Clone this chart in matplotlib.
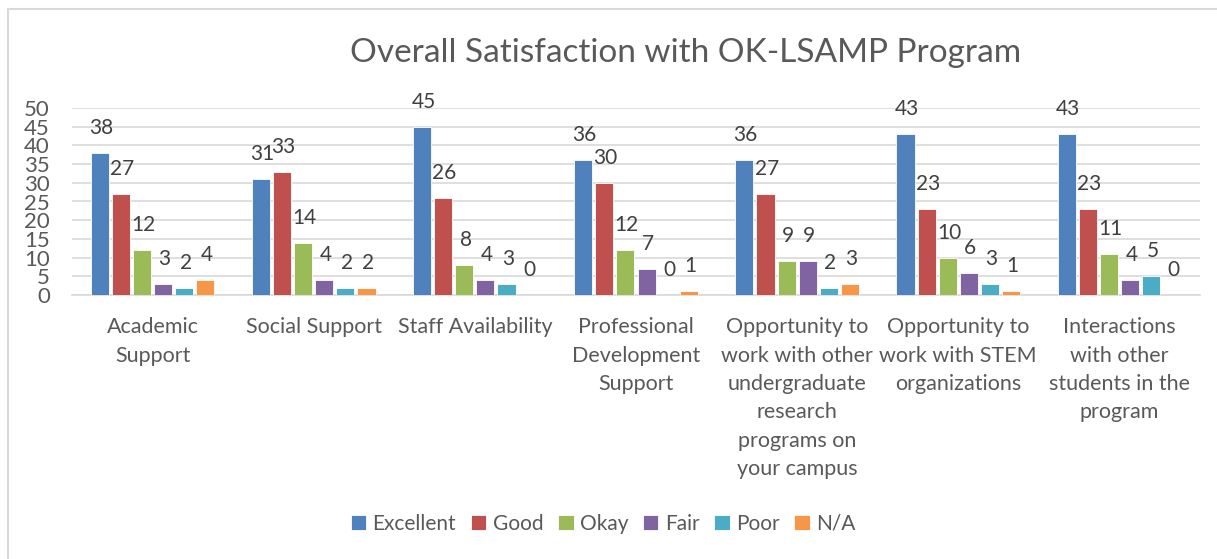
import matplotlib
matplotlib.use("Agg")
import matplotlib.pyplot as plt
import numpy as np
from matplotlib.patches import Rectangle

categories = [
    "Academic\nSupport",
    "Social Support",
    "Staff Availability",
    "Professional\nDevelopment\nSupport",
    "Opportunity to\nwork with other\nundergraduate\nresearch\nprograms on\nyour campus",
    "Opportunity to\nwork with STEM\norganizations",
    "Interactions\nwith other\nstudents in the\nprogram",
]
series_names = ["Excellent", "Good", "Okay", "Fair", "Poor", "N/A"]
excellent = [38, 31, 45, 36, 36, 43, 43]
good = [27, 33, 26, 30, 27, 23, 23]
okay = [12, 14, 8, 12, 9, 10, 11]
fair = [3, 4, 4, 7, 9, 6, 4]
poor = [2, 2, 3, 0, 2, 3, 5]
na = [4, 2, 0, 1, 3, 1, 0]
colors = ["#4F81BD", "#C0504D", "#9BBB59", "#8064A2", "#4BACC6", "#F79646"]

plt.rcParams["font.family"] = ["Lato", "DejaVu Sans"]
text_color = "#595959"

fig = plt.figure(figsize=(12.17, 5.59), dpi=100)
ax = fig.add_axes([72 / 1217, 1 - 295 / 559, (1200 - 72) / 1217, (295 - 108) / 559])

data = [excellent, good, okay, fair, poor, na]
x = np.arange(len(categories))
pitch = 0.131
width = 0.112
for i, (name, vals, c) in enumerate(zip(series_names, data, colors)):
    pos = x + (i - 2.5) * pitch
    ax.bar(pos, vals, width=width, color=c, edgecolor="white", linewidth=0.6, label=name, zorder=3)
    for px, v in zip(pos, vals):
        ax.annotate(str(v), (px, v), xytext=(1, 18), textcoords="offset points",
                    ha="center", va="center", fontsize=15, color="#404040", zorder=4)

ax.set_xlim(-0.5, len(categories) - 0.5)
ax.set_ylim(0, 50)
ax.set_yticks(range(0, 51, 5))
ax.yaxis.grid(True, color="#D9D9D9", linewidth=1.2, zorder=0)
ax.set_axisbelow(True)
for s in ["top", "right", "left"]:
    ax.spines[s].set_visible(False)
ax.spines["bottom"].set_color("#D9D9D9")
ax.spines["bottom"].set_linewidth(1.2)
ax.tick_params(axis="both", length=0, colors=text_color)
ax.tick_params(axis="y", pad=16, labelsize=16)
ax.set_xticks(x)
ax.set_xticklabels(categories, linespacing=1.52, fontsize=15.5, color=text_color, va="top")
ax.tick_params(axis="x", pad=16)

fig.text(686 / 1217, 1 - 53 / 559, "Overall Satisfaction with OK-LSAMP Program",
         ha="center", va="center", fontsize=24, color=text_color)

handles, labels = ax.get_legend_handles_labels()
fig.legend(handles, labels, loc="center", bbox_to_anchor=(603 / 1217, 1 - 524 / 559),
           ncol=6, frameon=False, fontsize=15, handlelength=0.75, handleheight=0.75,
           handletextpad=0.3, columnspacing=0.7, labelcolor=text_color)

fig.patches.append(Rectangle((8 / 1217, -0.1), 1.2, 1 - 9 / 559 + 0.1, transform=fig.transFigure,
                             fill=False, edgecolor="#D9D9D9", linewidth=1.5))

fig.savefig("out.png", dpi=100)
